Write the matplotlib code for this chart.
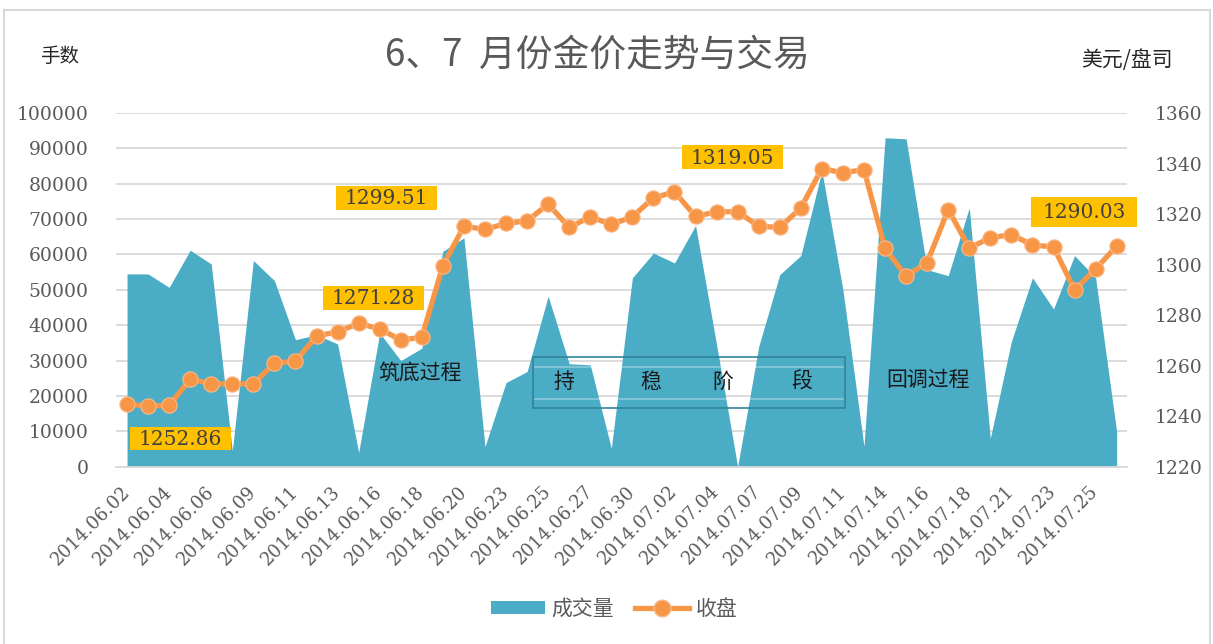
import matplotlib
import matplotlib.pyplot as plt
from matplotlib.lines import Line2D
from matplotlib.patches import Patch, Rectangle

matplotlib.use("Agg")

W, H = 1213, 644

dates = [
    "2014.06.02", "2014.06.03", "2014.06.04", "2014.06.05", "2014.06.06", "2014.06.07",
    "2014.06.09", "2014.06.10", "2014.06.11", "2014.06.12", "2014.06.13", "2014.06.14",
    "2014.06.16", "2014.06.17", "2014.06.18", "2014.06.19", "2014.06.20", "2014.06.21",
    "2014.06.23", "2014.06.24", "2014.06.25", "2014.06.26", "2014.06.27", "2014.06.28",
    "2014.06.30", "2014.07.01", "2014.07.02", "2014.07.03", "2014.07.04", "2014.07.05",
    "2014.07.07", "2014.07.08", "2014.07.09", "2014.07.10", "2014.07.11", "2014.07.12",
    "2014.07.14", "2014.07.15", "2014.07.16", "2014.07.17", "2014.07.18", "2014.07.19",
    "2014.07.21", "2014.07.22", "2014.07.23", "2014.07.24", "2014.07.25", "2014.07.26",
]

# 成交量 (手数)
volume = [
    54500, 54500, 50700, 61200, 57300, 4500,
    58300, 52600, 35900, 37300, 34700, 4000,
    37800, 30000, 33500, 60900, 64700, 5700,
    23800, 26900, 48200, 29100, 28800, 5200,
    53400, 60400, 57600, 68200, 34500, 0,
    34000, 54300, 59700, 83600, 50000, 5700,
    93000, 92700, 55700, 54000, 73200, 8000,
    35400, 53400, 44600, 59700, 53400, 9900,
]

# 收盘 (美元/盘司)
close = [
    1244.8, 1244.0, 1244.3, 1254.6, 1252.9, 1252.7,
    1252.86, 1260.9, 1261.8, 1271.7, 1273.4, 1276.7,
    1274.6, 1270.1, 1271.28, 1299.51, 1315.2, 1313.9,
    1316.3, 1317.3, 1323.9, 1314.7, 1318.9, 1315.9,
    1318.9, 1326.4, 1328.8, 1319.05, 1320.9, 1320.9,
    1315.2, 1314.7, 1322.4, 1338.0, 1336.3, 1337.6,
    1306.4, 1295.4, 1300.8, 1321.8, 1306.6, 1310.6,
    1311.9, 1307.7, 1307.0, 1290.03, 1298.2, 1307.4,
]

vol_ticks = list(range(0, 100001, 10000))
price_ticks = list(range(1220, 1361, 20))

# labelled points: (text, box in pixels x0, y0, x1, y1)
point_labels = [
    ("1252.86", (130, 427, 231, 450)),
    ("1271.28", (323, 286, 424, 310)),
    ("1299.51", (336, 186, 437, 210)),
    ("1319.05", (682, 145, 783, 169)),
    ("1290.03", (1031, 197, 1137, 227)),
]

BLUE = "#4BACC6"
ORANGE = "#F79646"
GRAY = "#595959"
GRID = "#D9D9D9"
CJK = ["Noto Sans CJK SC", "DejaVu Sans"]
NUM = "DejaVu Serif"

fig = plt.figure(figsize=(W / 100, H / 100), dpi=100)


def px(x, y):
    return x / W, 1 - y / H


# chart area border
for xs, ys in [([4, 4], [10, 644]), ([4, 1210], [10, 10]), ([1210, 1210], [10, 644])]:
    fig.add_artist(Line2D([x / W for x in xs], [1 - y / H for y in ys], color=GRID, lw=1.5))

left, right, top, bottom = 116.5, 1127.2, 113, 466.7
ax = fig.add_axes([left / W, 1 - bottom / H, (right - left) / W, (bottom - top) / H])
ax2 = ax.twinx()

x = list(range(len(dates)))
ax.fill_between(x, volume, color=BLUE, lw=0, zorder=2)
ax.set_ylim(0, 100000)
ax.set_yticks(vol_ticks)
ax.set_xlim(-0.5, len(dates) - 0.5)
ax.grid(axis="y", color=GRID, lw=1.3, zorder=0)
ax.set_axisbelow(True)
ax.set_xticks(x[::2])
ax.set_xticklabels(dates[::2], rotation=45, ha="right", va="center",
                   rotation_mode="anchor", fontsize=13, color=GRAY, family=NUM)
ax.tick_params(axis="x", length=0, pad=16)
ax.tick_params(axis="y", length=0, pad=20, labelsize=13.5, labelcolor=GRAY)
for lab in ax.get_yticklabels():
    lab.set_family(NUM)

ax2.plot(x, close, color=ORANGE, lw=3.8, marker="o", markersize=11,
         markerfacecolor=ORANGE, markeredgecolor="#FAB98A", markeredgewidth=0.8, zorder=3)
ax2.set_ylim(1220, 1360)
ax2.set_yticks(price_ticks)
ax2.tick_params(axis="y", length=0, pad=20, labelsize=13.5, labelcolor=GRAY)
for lab in ax2.get_yticklabels():
    lab.set_family(NUM)

for a in (ax, ax2):
    for s in a.spines.values():
        s.set_visible(False)
ax.spines["bottom"].set_visible(True)
ax.spines["bottom"].set_color(GRID)
ax.spines["bottom"].set_linewidth(1.3)

# titles
fig.text(*px(597, 55), "6、7  月份金价走势与交易", ha="center", va="center",
         fontsize=26.5, color=GRAY, family=CJK, fontweight="light")
fig.text(*px(60, 57), "手数", ha="center", va="center", fontsize=14, color="#262626", family=CJK)
fig.text(*px(1127, 60), "美元/盘司", ha="center", va="center", fontsize=15, color="#262626", family=CJK)

# value labels
for txt, (x0, y0, x1, y1) in point_labels:
    fig.add_artist(Rectangle(px(x0, y1), (x1 - x0) / W, (y1 - y0) / H,
                             facecolor="#FFC000", edgecolor="none", zorder=5))
    fig.text(*px((x0 + x1) / 2, (y0 + y1) / 2 + 1), txt, ha="center", va="center",
             fontsize=14.5, color="#404040", family=NUM, zorder=6)

# phase notes
fig.text(*px(420, 373), "筑底过程", ha="center", va="center", fontsize=15, color="#1A1A1A", family=CJK, zorder=6)
fig.text(*px(928, 380), "回调过程", ha="center", va="center", fontsize=15, color="#1A1A1A", family=CJK, zorder=6)

bx0, by0, bx1, by1 = 533, 357, 845, 408
fig.add_artist(Rectangle(px(bx0, by1), (bx1 - bx0) / W, (by1 - by0) / H,
                         facecolor="none", edgecolor="#31849B", lw=1.2, zorder=5))
for yy in (367, 398.5):
    fig.add_artist(Line2D([(bx0 + 2) / W, (bx1 - 2) / W], [1 - yy / H] * 2,
                          color="white", alpha=0.35, lw=1.2, zorder=5))
for ch, cx in zip("持稳阶段", [564, 651, 723, 802]):
    fig.text(*px(cx, 382), ch, ha="center", va="center", fontsize=15, color="#1A1A1A", family=CJK, zorder=6)

# legend
handles = [
    Patch(facecolor=BLUE, edgecolor="none"),
    Line2D([], [], color=ORANGE, lw=3.8, marker="o", markersize=12,
           markerfacecolor=ORANGE, markeredgecolor="#FAB98A"),
]
leg = fig.legend(handles, ["成交量", "收盘"], loc="center", bbox_to_anchor=px(614, 609),
                 ncol=2, frameon=False, handlelength=2.6, handleheight=0.6,
                 handletextpad=0.3, columnspacing=1.0, prop={"family": CJK, "size": 15})
for t in leg.get_texts():
    t.set_color(GRAY)

fig.savefig("out.png", dpi=100)
